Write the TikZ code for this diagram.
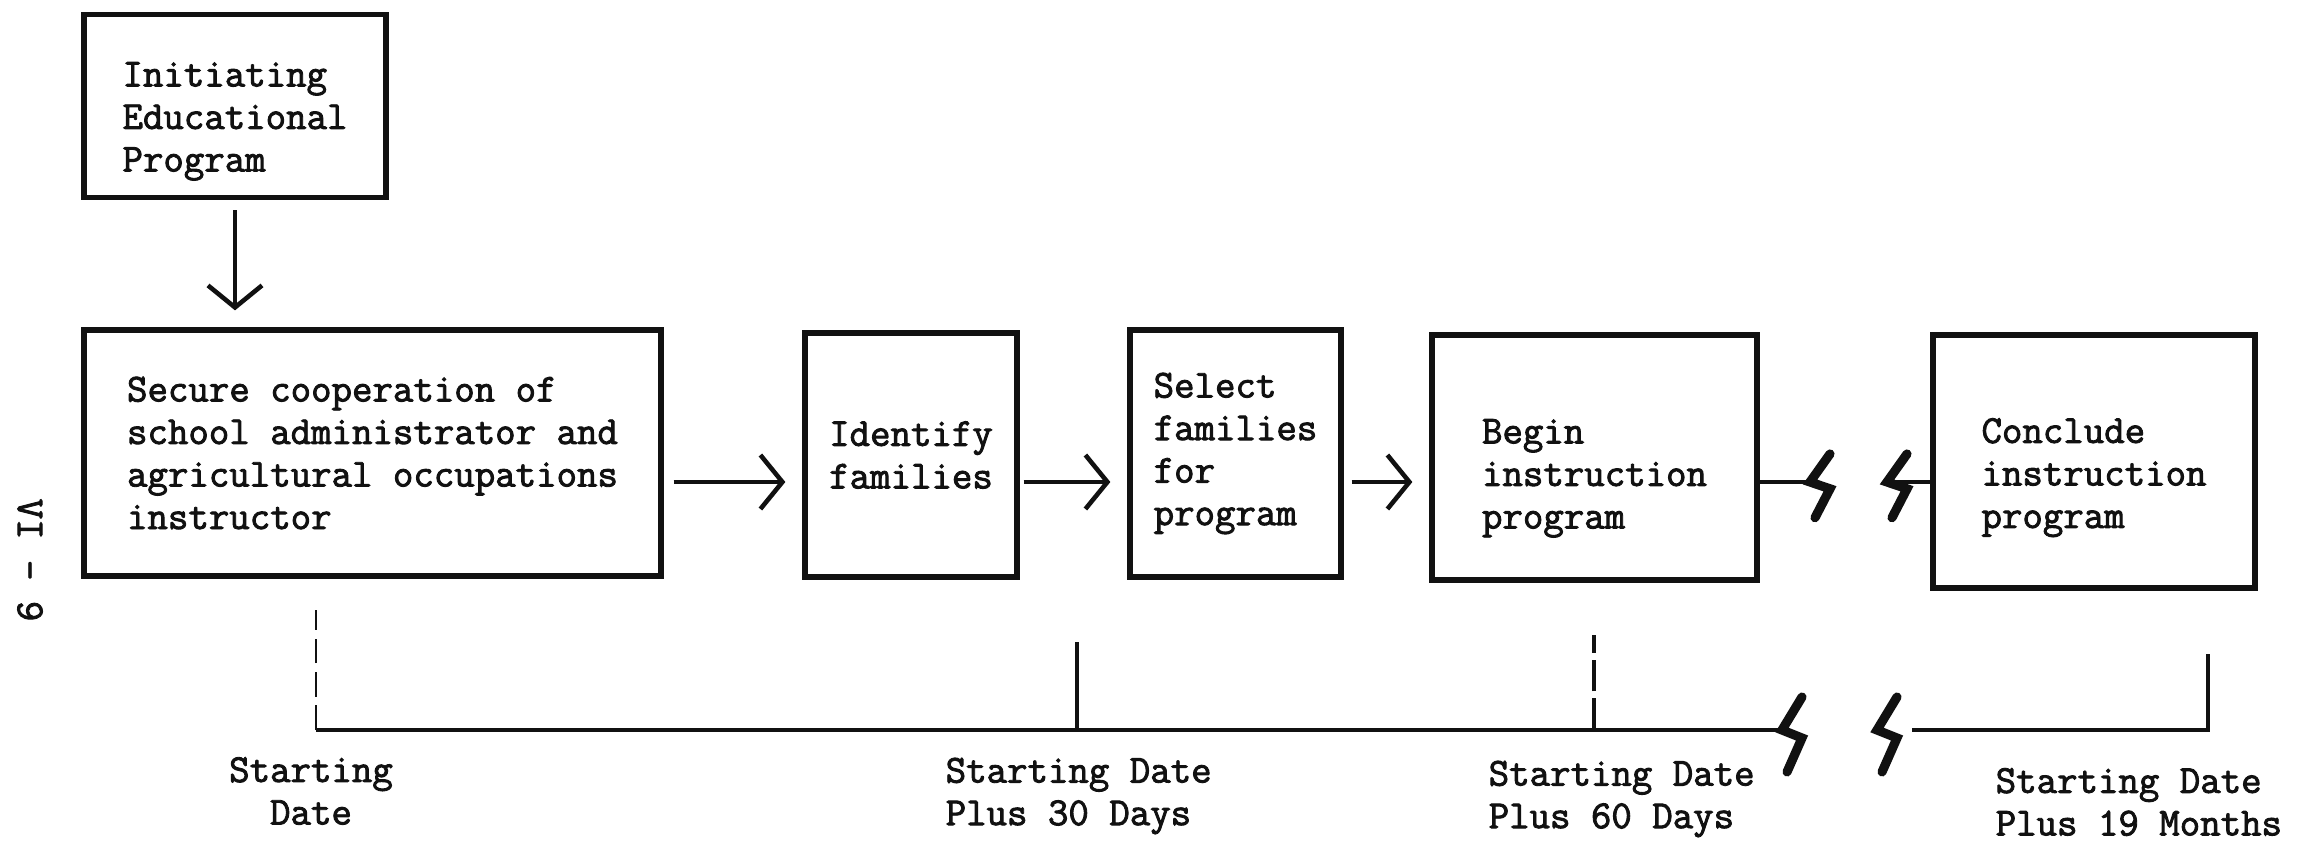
\documentclass[tikz,border=0pt]{standalone}
\usepackage{fontspec}
\setmonofont{Latin Modern Mono}[FakeBold=2.2]
\usetikzlibrary{arrows.meta,calc,positioning}
\definecolor{ink}{HTML}{111111}
\newcommand{\topgap}[1]{\rule{0pt}{#1}}
\tikzset{>={Straight Barb[length=2.2mm,width=5.4mm]},line width=1.2pt,
  every node/.style={font=\ttfamily\fontsize{11.3}{12.1}\selectfont,text=ink},
  box/.style={draw=ink,line width=1.5pt,align=left,inner sep=0pt},
  flow/.style={->,draw=ink,line width=1.3pt,shorten <=1mm,shorten >=1.7mm},
  tline/.style={draw=ink,line width=1.4pt},
  tick/.style={draw=ink,line width=.9pt},
  datelabel/.style={anchor=west,align=left,inner sep=0pt},
  brk/.pic={\draw[ink,line width=2.6pt,line cap=round](.2,.33)--(0,0)--(.2,-.08)--(.05,-.42);}}
\begin{document}
\begin{tikzpicture}[x=1cm,y=1cm]
\useasboundingbox(0,0)rectangle(23.03,-8.43);
\node[box,minimum width=3.02cm,minimum height=1.83cm](init)at(2.35,-1.06){\topgap{.55cm}Initiating\\Educational\\Program};
\node[box,minimum width=5.77cm,minimum height=2.46cm](secure)at(3.725,-4.53){Secure cooperation of\\school administrator and\\agricultural occupations\\instructor};
\node[box,minimum width=2.12cm,minimum height=2.44cm](ident)at(9.11,-4.55){Identify\\families};
\node[box,minimum width=2.11cm,minimum height=2.47cm](select)at(12.355,-4.535){Select\\families\\for\\program};
\node[box,minimum width=3.25cm,minimum height=2.45cm](begin)at(15.945,-4.575){\topgap{.66cm}Begin\\instruction\\program};
\node[box,minimum width=3.22cm,minimum height=2.53cm](concl)at(20.94,-4.615){\topgap{.57cm}Conclude\\instruction\\program};
\node[rotate=-90,inner sep=0pt](page)at(.30,-5.6){VI - 9};
% flow of the program
\coordinate(row)at(0,-4.82);
\draw[flow](init.south)--(init.south|-secure.north);
\draw[flow](secure.east|-row)--(ident.west|-row);
\draw[flow,shorten <=.4mm](ident.east|-row)--(select.west|-row);
\draw[flow,shorten <=.8mm](select.east|-row)--(begin.west|-row);
\draw[tline](begin.east|-row)--(18.10,-4.82)coordinate(b1);\pic[yscale=.85]at(b1){brk};
\coordinate(b2)at(18.87,-4.82);\pic[yscale=.85]at(b2){brk};
\draw[tline](b2)--(concl.west|-row);
% time line
\coordinate(t0)at(3.16,-7.30);\coordinate(z1)at(17.82,-7.30);\coordinate(z2)at(18.77,-7.30);
\draw[tline](t0)--(z1);\pic at(z1){brk};\pic at(z2){brk};
\draw[tline](19.12,-7.30)--(22.08,-7.30)--(22.08,-6.54);
\draw[tick,line width=.6pt,dash pattern=on 7pt off 2.5pt](t0)--++(0,1.2);
\draw[tick](10.77,-7.30)--(10.77,-6.42);
\draw[tick,dash pattern=on 9pt off 2pt](15.94,-7.30)--(15.94,-6.35);
\node[align=center,inner sep=0pt](d0)at(3.11,-7.91){Starting\\Date};
\node[datelabel](d30)at(9.45,-7.96){Starting Date\\Plus 30 Days};
\node[datelabel](d60)at(14.88,-7.99){Starting Date\\Plus 60 Days};
\node[datelabel](d19)at(19.95,-8.02){Starting Date\\Plus 19 Months};
\end{tikzpicture}
\end{document}
